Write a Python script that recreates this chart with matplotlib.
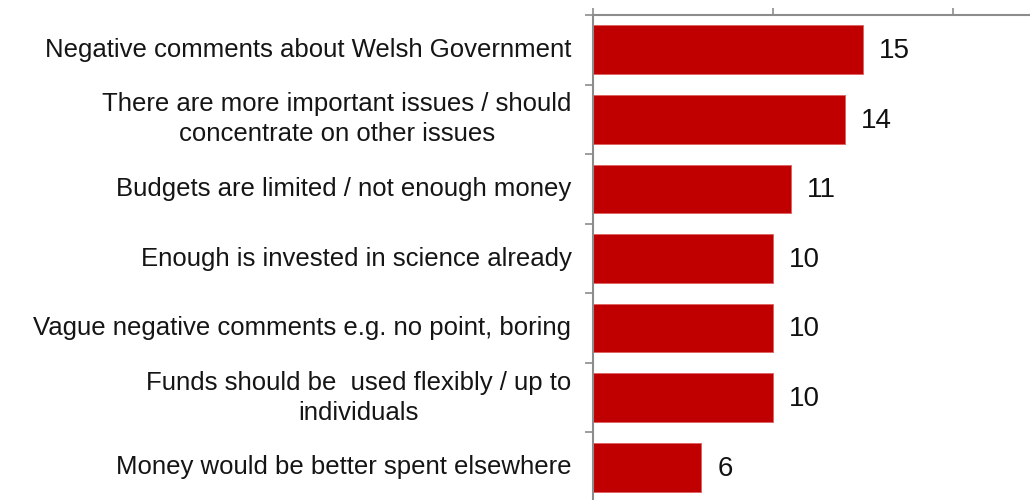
import matplotlib.pyplot as plt

plt.rcParams['font.family'] = ['Liberation Sans', 'DejaVu Sans']

# Reasons given, top to bottom
categories = [
    'Negative comments about Welsh Government',
    'There are more important issues / should\nconcentrate on other issues',
    'Budgets are limited / not enough money',
    'Enough is invested in science already',
    'Vague negative comments e.g. no point, boring',
    'Funds should be  used flexibly / up to\nindividuals',
    'Money would be better spent elsewhere',
]
values = [15, 14, 11, 10, 10, 10, 6]

bar_color = '#C00000'
axis_color = '#8C8C8C'

fig = plt.figure(figsize=(10.3, 5), dpi=100)
ax = fig.add_axes([593 / 1030, -0.004, 450 / 1030, 0.974])

pos = list(range(len(values)))
ax.barh(pos, values, height=0.7, color=bar_color, edgecolor='#E06060', linewidth=0.6)
ax.set_ylim(len(values) - 0.5, -0.5)
ax.set_xlim(0, 25)

for y, v in zip(pos, values):
    ax.text(v + 0.9, y + 0.02, str(v), va='center', ha='left', fontsize=20, color='#111111')

# category names as text next to the spine
for y, label in zip(pos, categories):
    ax.text(-1.2, y, label, va='center', ha='right', multialignment='center',
            fontsize=18.5, color='#151515', linespacing=1.32)

ax.xaxis.tick_top()
ax.set_xticks([0, 10, 20])
ax.set_xticklabels([])
ax.tick_params(axis='x', direction='out', length=5, color=axis_color, width=1.2)

# ticks between categories on the vertical axis
ax.set_yticks([p - 0.5 for p in pos] + [len(values) - 0.5])
ax.set_yticklabels([])
ax.tick_params(axis='y', direction='out', length=6, color=axis_color, width=1.2)

for side in ['right', 'bottom']:
    ax.spines[side].set_visible(False)
for side in ['top', 'left']:
    ax.spines[side].set_color(axis_color)
    ax.spines[side].set_linewidth(1.5)

fig.savefig('out.png', dpi=100)
